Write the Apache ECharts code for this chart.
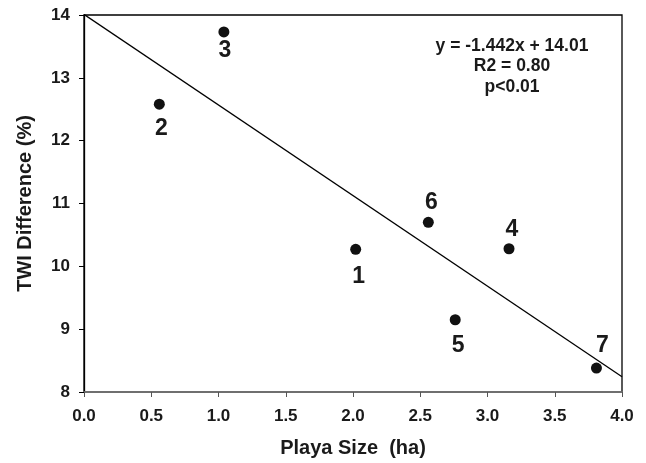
<!DOCTYPE html>
<html>
<head>
<meta charset="utf-8">
<script src="https://cdn.jsdelivr.net/npm/echarts@6/dist/echarts.min.js"></script>
<style>html,body{margin:0;padding:0;background:#fff}#c{width:646px;height:463px}</style>
</head>
<body>
<div id="c"></div>
<script>
// ---- data ----
const pointIds = ['1', '2', '3', '4', '5', '6', '7'];
const playaSize = [2.02, 0.56, 1.04, 3.16, 2.76, 2.56, 3.81];
const twiDiff = [10.27, 12.58, 13.73, 10.28, 9.15, 10.70, 8.38];
const fitX = [0, 4];
const fitY = [14.01, 8.242];
const statLines = ['y = -1.442x + 14.01', 'R2 = 0.80', 'p<0.01'];
const xTitle = 'Playa Size  (ha)';
const yTitle = 'TWI Difference (%)';

// ---- styling (label offsets relative to dot centre) ----
const labelOffsets = [[3, 27], [2, 24], [1, 19], [3, -19], [3, 26], [3, -20], [6, -22]];
const FONT = '"Liberation Sans", Arial, Helvetica, sans-serif';
const INK = '#1a1a1a';

const chart = echarts.init(document.getElementById('c'), null, {renderer: 'canvas'});
const scatterData = playaSize.map((x, i) => ({
  value: [x, twiDiff[i]],
  name: pointIds[i],
  label: {offset: labelOffsets[i]}
}));
const lineData = fitX.map((x, i) => [x, fitY[i]]);

chart.setOption({
  animation: false,
  backgroundColor: '#fff',
  grid: {left: 84, right: 24, top: 15, bottom: 71, show: true, borderColor: '#000', borderWidth: 1.3, backgroundColor: 'transparent'},
  xAxis: {
    type: 'value', min: 0, max: 4, interval: 0.5,
    name: xTitle, nameLocation: 'middle', nameGap: 46,
    nameTextStyle: {fontFamily: FONT, fontWeight: 'bold', fontSize: 20, color: INK},
    axisLine: {show: true, onZero: false, lineStyle: {color: '#808080', width: 1.5}},
    axisTick: {show: true, inside: false, length: 5, lineStyle: {color: '#555', width: 1}},
    axisLabel: {margin: 16, fontFamily: FONT, fontWeight: 'bold', fontSize: 17, color: INK, formatter: v => v.toFixed(1)},
    splitLine: {show: false}
  },
  yAxis: {
    type: 'value', min: 8, max: 14, interval: 1,
    name: yTitle, nameLocation: 'middle', nameGap: 49, nameRotate: 90,
    nameTextStyle: {fontFamily: FONT, fontWeight: 'bold', fontSize: 20, color: INK},
    axisLine: {show: true, onZero: false, lineStyle: {color: '#000', width: 1.3}},
    axisTick: {show: true, inside: false, length: 5, lineStyle: {color: '#000', width: 1}},
    axisLabel: {margin: 14, fontFamily: FONT, fontWeight: 'bold', fontSize: 17, color: INK},
    splitLine: {show: false}
  },
  series: [
    {
      type: 'line', data: lineData, symbol: 'none', clip: true,
      lineStyle: {color: '#000', width: 1.3}, z: 2
    },
    {
      type: 'scatter', data: scatterData, symbol: 'circle', symbolSize: 11,
      itemStyle: {color: '#111', opacity: 1}, z: 3,
      label: {
        show: true, position: 'inside', formatter: p => p.name,
        fontFamily: FONT, fontWeight: 'bold', fontSize: 23, color: INK,
        textBorderWidth: 0, opacity: 1
      }
    }
  ],
  graphic: statLines.map((t, i) => ({
    type: 'text', z: 10,
    style: {text: t, x: 512, y: 46 + i * 20.5, textAlign: 'center', textVerticalAlign: 'middle',
            font: 'bold 17.5px ' + FONT, fill: INK}
  }))
});
</script>
</body>
</html>
